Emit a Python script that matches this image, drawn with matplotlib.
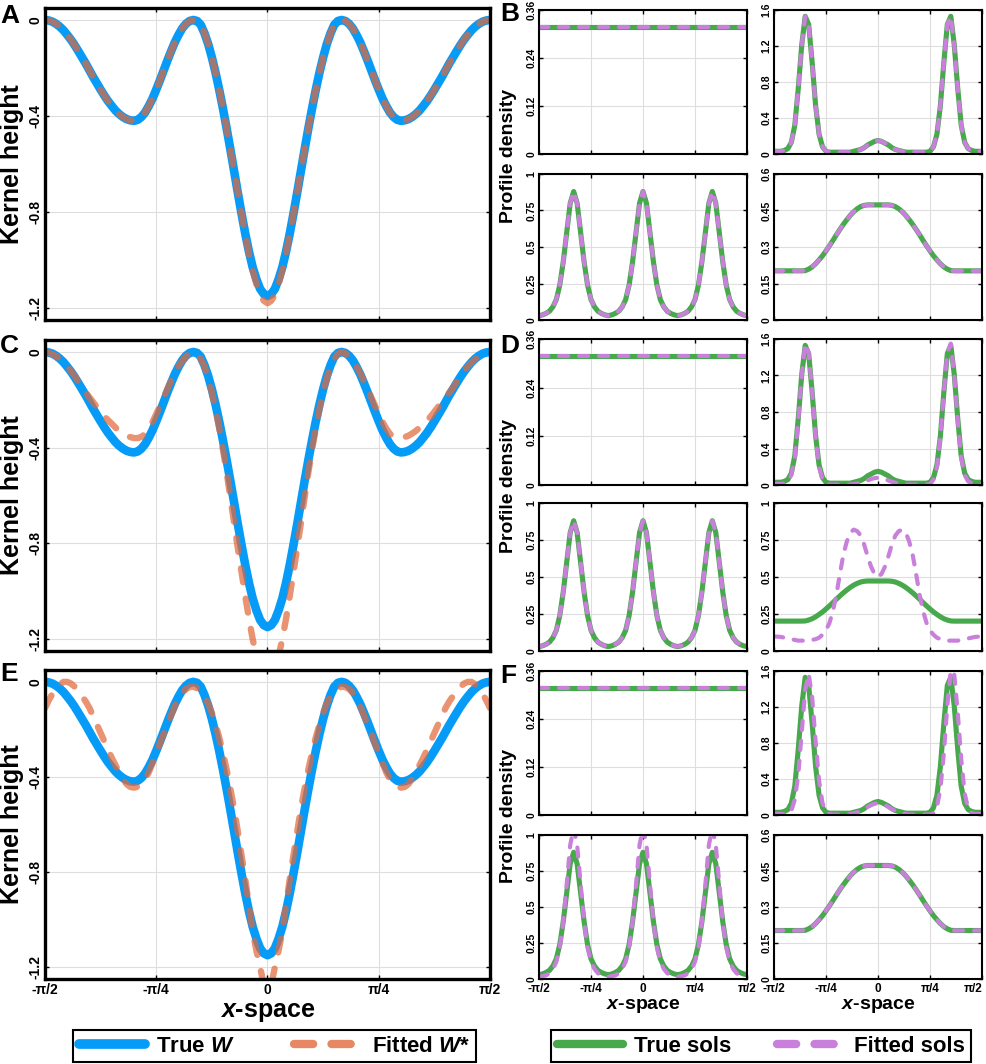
import numpy as np
import matplotlib.pyplot as plt
from matplotlib.lines import Line2D

plt.rcParams['font.family'] = ['Liberation Sans', 'DejaVu Sans']
plt.rcParams['font.weight'] = 'bold'
plt.rcParams['axes.labelweight'] = 'bold'
plt.rcParams['mathtext.fontset'] = 'custom'
plt.rcParams['mathtext.it'] = 'Liberation Sans:italic:bold'
plt.rcParams['mathtext.rm'] = 'Liberation Sans:bold'

# sample positions (x-space from -pi/2 to pi/2)
x_k = np.linspace(-np.pi / 2, np.pi / 2, 121)   # kernels
x = np.linspace(-np.pi / 2, np.pi / 2, 61)      # profiles
x_ticks = [-np.pi / 2, -np.pi / 4, 0, np.pi / 4, np.pi / 2]
x_ticklabels = ['-π/2', '-π/4', '0', 'π/4', 'π/2']

# kernels (left column)
w_true = [0.0, -0.002, -0.007, -0.016, -0.028, -0.043, -0.062, -0.082, -0.105, -0.13,
          -0.156, -0.182, -0.21, -0.238, -0.264, -0.29, -0.315, -0.338, -0.358, -0.377,
          -0.392, -0.404, -0.413, -0.418, -0.42, -0.416, -0.404, -0.385, -0.358, -0.327,
          -0.29, -0.251, -0.21, -0.169, -0.13, -0.093, -0.062, -0.035, -0.016, -0.004,
          0.0, -0.004, -0.02, -0.055, -0.10, -0.156, -0.22, -0.292, -0.37, -0.453,
          -0.54, -0.63, -0.72, -0.807, -0.89, -0.965, -1.03, -1.08, -1.12, -1.142,
          -1.15,
          -1.142, -1.12, -1.08, -1.03, -0.965, -0.89, -0.807, -0.72, -0.63, -0.54,
          -0.453, -0.37, -0.292, -0.22, -0.156, -0.10, -0.055, -0.02, -0.004, 0.0,
          -0.004, -0.016, -0.035, -0.062, -0.093, -0.13, -0.169, -0.21, -0.251, -0.29,
          -0.327, -0.358, -0.385, -0.404, -0.416, -0.42, -0.418, -0.413, -0.404, -0.392,
          -0.377, -0.358, -0.338, -0.315, -0.29, -0.264, -0.238, -0.21, -0.182, -0.156,
          -0.13, -0.105, -0.082, -0.062, -0.043, -0.028, -0.016, -0.007, -0.002, 0.0]
w_fit_a = [0.0, -0.002, -0.007, -0.016, -0.028, -0.043, -0.062, -0.082, -0.105, -0.13,
           -0.156, -0.182, -0.21, -0.238, -0.264, -0.29, -0.315, -0.338, -0.358, -0.377,
           -0.392, -0.404, -0.413, -0.418, -0.42, -0.416, -0.404, -0.385, -0.358, -0.327,
           -0.29, -0.251, -0.21, -0.169, -0.13, -0.093, -0.062, -0.035, -0.016, -0.004,
           0.0, -0.004, -0.02, -0.055, -0.10, -0.156, -0.22, -0.292, -0.37, -0.453,
           -0.54, -0.63, -0.72, -0.807, -0.89, -0.975, -1.045, -1.10, -1.145, -1.17,
           -1.18,
           -1.17, -1.145, -1.10, -1.045, -0.975, -0.89, -0.807, -0.72, -0.63, -0.54,
           -0.453, -0.37, -0.292, -0.22, -0.156, -0.10, -0.055, -0.02, -0.004, 0.0,
           -0.004, -0.016, -0.035, -0.062, -0.093, -0.13, -0.169, -0.21, -0.251, -0.29,
           -0.327, -0.358, -0.385, -0.404, -0.416, -0.42, -0.418, -0.413, -0.404, -0.392,
           -0.377, -0.358, -0.338, -0.315, -0.29, -0.264, -0.238, -0.21, -0.182, -0.156,
           -0.13, -0.105, -0.082, -0.062, -0.043, -0.028, -0.016, -0.007, -0.002, 0.0]
w_fit_c = [0.0, -0.003, -0.01, -0.018, -0.03, -0.044, -0.06, -0.08, -0.10, -0.125,
           -0.15, -0.17, -0.19, -0.21, -0.23, -0.25, -0.27, -0.285, -0.30, -0.316,
           -0.33, -0.341, -0.35, -0.356, -0.36, -0.36, -0.355, -0.342, -0.32, -0.292,
           -0.26, -0.225, -0.19, -0.155, -0.12, -0.088, -0.06, -0.037, -0.02, -0.006,
           0.0, -0.008, -0.03, -0.06, -0.11, -0.17, -0.24, -0.32, -0.41, -0.505,
           -0.61, -0.715, -0.82, -0.92, -1.02, -1.115, -1.20, -1.27, -1.33, -1.38,
           -1.40,
           -1.38, -1.33, -1.27, -1.20, -1.115, -1.02, -0.92, -0.82, -0.715, -0.61,
           -0.505, -0.41, -0.32, -0.24, -0.17, -0.11, -0.06, -0.03, -0.008, 0.0,
           -0.006, -0.02, -0.037, -0.06, -0.088, -0.12, -0.155, -0.19, -0.225, -0.26,
           -0.292, -0.32, -0.342, -0.355, -0.36, -0.36, -0.356, -0.35, -0.341, -0.33,
           -0.316, -0.30, -0.285, -0.27, -0.25, -0.23, -0.21, -0.19, -0.17, -0.15,
           -0.125, -0.10, -0.08, -0.06, -0.044, -0.03, -0.018, -0.01, -0.003, 0.0]
w_fit_e = [-0.11, -0.078, -0.05, -0.028, -0.01, 0.0, 0.0, -0.007, -0.02, -0.038,
           -0.06, -0.083, -0.11, -0.145, -0.18, -0.215, -0.25, -0.285, -0.32, -0.35,
           -0.38, -0.408, -0.43, -0.442, -0.445, -0.441, -0.43, -0.41, -0.38, -0.342,
           -0.30, -0.26, -0.22, -0.18, -0.14, -0.103, -0.07, -0.047, -0.03, -0.022,
           -0.02, -0.027, -0.04, -0.062, -0.09, -0.13, -0.18, -0.235, -0.30, -0.37,
           -0.45, -0.535, -0.63, -0.73, -0.83, -0.94, -1.05, -1.13, -1.20, -1.275,
           -1.30,
           -1.275, -1.20, -1.13, -1.05, -0.94, -0.83, -0.73, -0.63, -0.535, -0.45,
           -0.37, -0.30, -0.235, -0.18, -0.13, -0.09, -0.062, -0.04, -0.027, -0.02,
           -0.022, -0.03, -0.047, -0.07, -0.103, -0.14, -0.18, -0.22, -0.26, -0.30,
           -0.342, -0.38, -0.41, -0.43, -0.441, -0.445, -0.442, -0.43, -0.408, -0.38,
           -0.35, -0.32, -0.285, -0.25, -0.215, -0.18, -0.145, -0.11, -0.083, -0.06,
           -0.038, -0.02, -0.007, 0.0, 0.0, -0.01, -0.028, -0.05, -0.078, -0.11]

# profile densities (right column)
tl_true = [0.318, 0.318]
tr_true = [0.03, 0.03, 0.03, 0.04, 0.06, 0.13, 0.32, 0.73, 1.21, 1.53,
           1.44, 1.02, 0.54, 0.22, 0.08, 0.03, 0.02, 0.02, 0.02, 0.02,
           0.02, 0.02, 0.02, 0.03, 0.04, 0.05, 0.07, 0.10, 0.12, 0.14,
           0.15,
           0.14, 0.12, 0.10, 0.07, 0.05, 0.04, 0.03, 0.02, 0.02, 0.02,
           0.02, 0.02, 0.02, 0.02, 0.03, 0.08, 0.22, 0.54, 1.02, 1.44,
           1.53, 1.21, 0.73, 0.32, 0.13, 0.06, 0.04, 0.03, 0.03, 0.03]
tr_fit_d = [0.01, 0.01, 0.01, 0.02, 0.04, 0.11, 0.30, 0.71, 1.20, 1.55,
            1.45, 1.02, 0.53, 0.20, 0.06, 0.01, 0.005, 0.005, 0.005, 0.005,
            0.005, 0.005, 0.005, 0.01, 0.015, 0.025, 0.035, 0.05, 0.065, 0.075,
            0.08,
            0.075, 0.065, 0.05, 0.035, 0.025, 0.015, 0.01, 0.005, 0.005, 0.005,
            0.005, 0.005, 0.005, 0.005, 0.01, 0.06, 0.20, 0.53, 1.02, 1.45,
            1.55, 1.20, 0.71, 0.30, 0.11, 0.04, 0.02, 0.01, 0.01, 0.01]
tr_fit_f = [0.01, 0.01, 0.01, 0.01, 0.015, 0.05, 0.17, 0.45, 0.92, 1.39,
            1.57, 1.31, 0.82, 0.38, 0.13, 0.04, 0.01, 0.005, 0.005, 0.005,
            0.005, 0.005, 0.01, 0.02, 0.03, 0.045, 0.065, 0.09, 0.11, 0.125,
            0.13,
            0.125, 0.11, 0.09, 0.065, 0.045, 0.03, 0.02, 0.01, 0.005, 0.005,
            0.005, 0.005, 0.005, 0.005, 0.005, 0.02, 0.09, 0.29, 0.69, 1.22,
            1.61, 1.56, 1.14, 0.62, 0.24, 0.07, 0.02, 0.01, 0.01, 0.01]
bl_true = [0.03, 0.035, 0.045, 0.06, 0.09, 0.14, 0.24, 0.40, 0.60, 0.80, 0.88,
           0.80, 0.60, 0.40, 0.24, 0.14, 0.09, 0.06, 0.045, 0.035, 0.03,
           0.035, 0.045, 0.06, 0.09, 0.14, 0.24, 0.40, 0.60, 0.80, 0.88,
           0.80, 0.60, 0.40, 0.24, 0.14, 0.09, 0.06, 0.045, 0.035, 0.03,
           0.035, 0.045, 0.06, 0.09, 0.14, 0.24, 0.40, 0.60, 0.80, 0.88,
           0.80, 0.60, 0.40, 0.24, 0.14, 0.09, 0.06, 0.045, 0.035, 0.03]
bl_fit_f = [0.015, 0.02, 0.025, 0.04, 0.07, 0.12, 0.22, 0.40, 0.66, 0.93, 1.05,
            0.93, 0.66, 0.40, 0.22, 0.12, 0.07, 0.04, 0.025, 0.02, 0.015,
            0.02, 0.025, 0.04, 0.07, 0.12, 0.22, 0.40, 0.66, 0.93, 1.05,
            0.93, 0.66, 0.40, 0.22, 0.12, 0.07, 0.04, 0.025, 0.02, 0.015,
            0.02, 0.025, 0.04, 0.07, 0.12, 0.22, 0.40, 0.66, 0.93, 1.05,
            0.93, 0.66, 0.40, 0.22, 0.12, 0.07, 0.04, 0.025, 0.02, 0.015]
br_true = [0.202, 0.202, 0.202, 0.202, 0.202, 0.202, 0.202, 0.202, 0.202, 0.203,
           0.209, 0.218, 0.231, 0.247, 0.264, 0.284, 0.305, 0.327, 0.350, 0.372,
           0.393, 0.412, 0.430, 0.445, 0.457, 0.466, 0.471, 0.473, 0.473, 0.473,
           0.473,
           0.473, 0.473, 0.473, 0.471, 0.466, 0.457, 0.445, 0.430, 0.412, 0.393,
           0.372, 0.350, 0.327, 0.305, 0.284, 0.264, 0.247, 0.231, 0.218, 0.209,
           0.203, 0.202, 0.202, 0.202, 0.202, 0.202, 0.202, 0.202, 0.202, 0.202]
br_fit_d = [0.098, 0.097, 0.095, 0.09, 0.085, 0.08, 0.075, 0.07, 0.07, 0.07,
            0.07, 0.075, 0.08, 0.09, 0.11, 0.14, 0.19, 0.27, 0.38, 0.52,
            0.65, 0.74, 0.80, 0.82, 0.81, 0.78, 0.72, 0.64, 0.57, 0.52,
            0.50,
            0.52, 0.57, 0.64, 0.72, 0.78, 0.81, 0.82, 0.80, 0.74, 0.65,
            0.52, 0.38, 0.27, 0.19, 0.14, 0.11, 0.09, 0.08, 0.075, 0.07,
            0.07, 0.07, 0.07, 0.075, 0.08, 0.085, 0.09, 0.095, 0.097, 0.098]

w_ticks = [-1.2, -0.8, -0.4, 0]
w_ticklabels = ['-1.2', '-0.8', '-0.4', '0']
tl_ticks, tl_labels = [0, 0.12, 0.24, 0.36], ['0', '0.12', '0.24', '0.36']
tr_ticks, tr_labels = [0, 0.4, 0.8, 1.2, 1.6], ['0', '0.4', '0.8', '1.2', '1.6']
bl_ticks, bl_labels = [0, 0.25, 0.5, 0.75, 1], ['0', '0.25', '0.5', '0.75', '1']
br_ticks, br_labels = [0, 0.15, 0.3, 0.45, 0.6], ['0', '0.15', '0.3', '0.45', '0.6']

BLUE = '#069BF7'
ORANGE = '#E1693C'
GREEN = '#47A84C'
PURPLE = '#C880DA'

W_PX, H_PX = 987, 1064
fig = plt.figure(figsize=(9.87, 10.64), dpi=100)


def box(l, t, r, b):
    return fig.add_axes([l / W_PX, 1 - b / H_PX, (r - l) / W_PX, (b - t) / H_PX])


def style(ax, yticks, ylabels, ylim, show_x, spine_w, ysize, xsize):
    ax.set_xlim(-np.pi / 2, np.pi / 2)
    ax.set_ylim(*ylim)
    ax.set_xticks(x_ticks)
    ax.set_xticklabels(x_ticklabels if show_x else [])
    ax.set_yticks(yticks)
    ax.set_yticklabels(ylabels, rotation=90, va='center')
    ax.tick_params(axis='y', labelsize=ysize, pad=2)
    ax.tick_params(axis='x', labelsize=xsize, pad=3)
    ax.tick_params(direction='in', top=True, right=True, length=3, width=1)
    ax.grid(True, color='#dedede', lw=0.8)
    ax.set_axisbelow(True)
    for s in ax.spines.values():
        s.set_linewidth(spine_w)


# left column: kernels
left_panels = [((45, 8, 490, 320), w_fit_a, 'A', 16),
               ((45, 340, 490, 651), w_fit_c, 'C', 346),
               ((45, 670, 490, 979), w_fit_e, 'E', 674)]
for i, (rect, fit, letter, ly) in enumerate(left_panels):
    ax = box(*rect)
    ax.plot(x_k, w_true, color=BLUE, lw=6.2, solid_capstyle='round')
    ax.plot(x_k, fit, color=ORANGE, lw=4.6, alpha=0.72, dashes=(2.2, 2.6),
            dash_capstyle='round')
    style(ax, w_ticks, w_ticklabels, (-1.25, 0.05), i == 2, 2.4, 10, 10)
    fig.text(12 / W_PX, 1 - (rect[1] + rect[3]) / 2 / H_PX, 'Kernel height',
             rotation=90, ha='center', va='center', fontsize=18)
    fig.text(0, 1 - ly / H_PX, letter, fontsize=19, va='center', ha='left')
    if i == 2:
        ax.set_xlabel('$x$-space', fontsize=18, labelpad=2)

# right column: profiles
cols = [(539, 747), (774, 982)]
groups = [('B', [(10, 154), (174, 320)], 14,
           [(tl_true, tl_true), (tr_true, tr_true), (bl_true, bl_true), (br_true, br_true)],
           br_ticks, br_labels),
          ('D', [(339, 485), (503, 651)], 346,
           [(tl_true, tl_true), (tr_true, tr_fit_d), (bl_true, bl_true), (br_true, br_fit_d)],
           bl_ticks, bl_labels),
          ('F', [(671, 815), (835, 979)], 676,
           [(tl_true, tl_true), (tr_true, tr_fit_f), (bl_true, bl_fit_f), (br_true, br_true)],
           br_ticks, br_labels)]
for g, (letter, rows, ly, curves, br_t, br_l) in enumerate(groups):
    ticks = [(tl_ticks, tl_labels), (tr_ticks, tr_labels), (bl_ticks, bl_labels), (br_t, br_l)]
    for k in range(4):
        r, c = divmod(k, 2)
        ax = box(cols[c][0], rows[r][0], cols[c][1], rows[r][1])
        true_y, fit_y = curves[k]
        xs = x if len(true_y) == len(x) else [x[0], x[-1]]
        ax.plot(xs, true_y, color=GREEN, lw=3.7, solid_capstyle='round')
        ax.plot(xs, fit_y, color=PURPLE, lw=3.0, dashes=(2.2, 2.6),
                dash_capstyle='round')
        show_x = (g == 2 and r == 1)
        yt, yl = ticks[k]
        style(ax, yt, yl, (yt[0], yt[-1]), show_x, 1.5, 7.5, 8.5)
        if show_x:
            ax.set_xlabel('$x$-space', fontsize=14, labelpad=1)
            if c == 1:
                ax.get_xticklabels()[-1].set_horizontalalignment('right')
    mid = (rows[0][0] + rows[1][1]) / 2 - 9
    fig.text(509 / W_PX, 1 - mid / H_PX, 'Profile density', rotation=90,
             ha='center', va='center', fontsize=14)
    fig.text(500 / W_PX, 1 - ly / H_PX, letter, fontsize=19, va='center', ha='left')

# legends
h_left = [Line2D([], [], color=BLUE, lw=7, solid_capstyle='round'),
          Line2D([], [], color=ORANGE, lw=6, alpha=0.8, dashes=(2.3, 2.2),
                 dash_capstyle='round')]
leg1 = fig.legend(h_left, ['True $W$', 'Fitted $W$*'], ncol=2, loc='center',
                  bbox_to_anchor=(62 / W_PX, 1 - 1062 / H_PX, 425 / W_PX, 32 / H_PX),
                  mode='expand', fontsize=16, handlelength=3.0, handletextpad=0.5,
                  borderpad=0.25, fancybox=False, edgecolor='black', framealpha=1)
leg1.get_frame().set_linewidth(1.5)

h_right = [Line2D([], [], color=GREEN, lw=6, solid_capstyle='round'),
           Line2D([], [], color=PURPLE, lw=6, dashes=(2.3, 2.2), dash_capstyle='round')]
leg2 = fig.legend(h_right, ['True sols', 'Fitted sols'], ncol=2, loc='center',
                  bbox_to_anchor=(540 / W_PX, 1 - 1062 / H_PX, 442 / W_PX, 32 / H_PX),
                  mode='expand', fontsize=16, handlelength=3.0, handletextpad=0.5,
                  borderpad=0.25, fancybox=False, edgecolor='black', framealpha=1)
leg2.get_frame().set_linewidth(1.5)

fig.savefig('out.png', dpi=100)
